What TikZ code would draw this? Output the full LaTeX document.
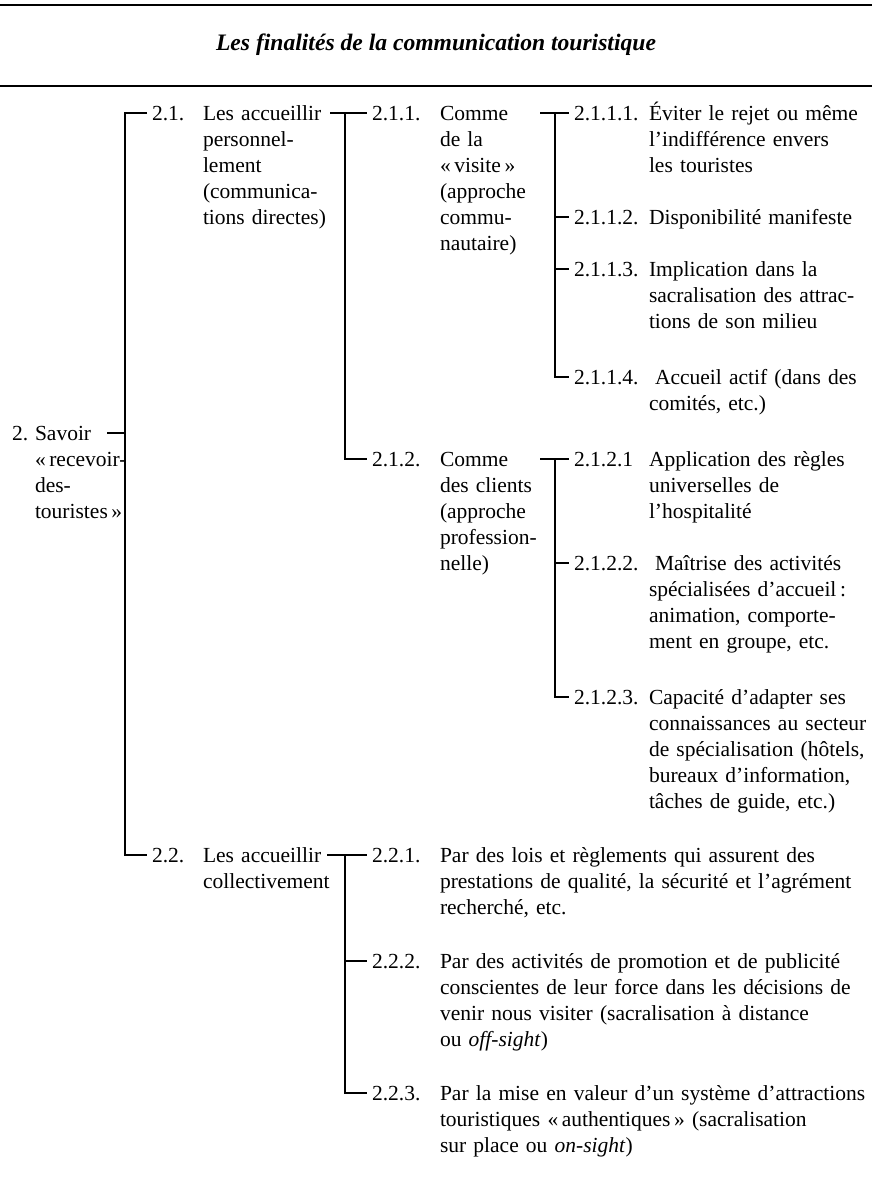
\documentclass[tikz,border=0pt]{standalone}
\usepackage{fontspec}
\setmainfont{Liberation Serif}
\usetikzlibrary{calc}

\begin{document}
\begin{tikzpicture}[x=0.5pt, y=-0.5pt,
		T/.style = {anchor=base west, inner sep=0pt, outer sep=0pt,
			align=left, text width=#1,% text of a branch
			font=\fontsize{10.75}{13}\selectfont},
		T/.default=75pt,
		N/.style = {anchor=base west, inner sep=0pt, outer sep=0pt,% number of a branch
			font=\fontsize{10.75}{13}\selectfont},
		C/.style = {line width=1pt},
		R/.style = {line width=1.3pt},
		]
		\useasboundingbox (0,0) rectangle (872,1179);
		% title between two rules
		\draw[R] (0,5) -- (872,5);
		\draw[R] (0,86) -- (872,86);
		\node[anchor=base, inner sep=0pt, font=\fontsize{11.8}{14}\selectfont\bfseries\itshape]
			(title) at (436,50) {Les finalités de la communication touristique};
		% free ends and spines
		\coordinate (K2) at (107,0);   \coordinate (V1) at (125,0);
		\coordinate (K21) at (330,0);  \coordinate (V21) at (345,0);
		\coordinate (K22) at (327,0);  \coordinate (V22) at (345,0);
		\coordinate (K211) at (540,0); \coordinate (V211) at (555,0);
		\coordinate (K212) at (540,0); \coordinate (V212) at (555,0);
		% level 1
		\node[N] (N2) at (12,440) {2.};
		\node[T=50pt] (T2) at (35,440) {Savoir\\«\,recevoir-\\des-\\touristes\,»};
		% level 2
		\node[N] (N21) at (152,120) {2.1.};
		\node[T] (T21) at (203,120) {Les accueillir\\personnel-\\lement\\(communica-\\tions directes)};
		\node[N] (N22) at (152,862) {2.2.};
		\node[T] (T22) at (203,862) {Les accueillir\\collectivement};
		% level 3
		\node[N] (N211) at (372,120) {2.1.1.};
		\node[T=60pt] (T211) at (440,120) {Comme\\de la\\«\,visite\,»\\(approche\\commu-\\nautaire)};
		\node[N] (N212) at (372,466) {2.1.2.};
		\node[T=60pt] (T212) at (440,466) {Comme\\des clients\\(approche\\profession-\\nelle)};
		\node[N] (N221) at (372,862) {2.2.1.};
		\node[T=230pt] (T221) at (440,862) {Par des lois et règlements qui assurent des\\prestations de qualité, la sécurité et l’agrément\\recherché, etc.};
		\node[N] (N222) at (372,968) {2.2.2.};
		\node[T=230pt] (T222) at (440,968) {Par des activités de promotion et de publicité\\conscientes de leur force dans les décisions de\\venir nous visiter (sacralisation à distance\\ou \textit{off-sight})};
		\node[N] (N223) at (372,1100) {2.2.3.};
		\node[T=230pt] (T223) at (440,1100) {Par la mise en valeur d’un système d’attractions\\touristiques «\,authentiques\,» (sacralisation\\sur place ou \textit{on-sight})};
		% level 4
		\node[N] (N2111) at (574,120) {2.1.1.1.};
		\node[T=130pt] (T2111) at (649,120) {Éviter le rejet ou même\\l’indifférence envers\\les touristes};
		\node[N] (N2112) at (574,224) {2.1.1.2.};
		\node[T=130pt] (T2112) at (649,224) {Disponibilité manifeste};
		\node[N] (N2113) at (574,276) {2.1.1.3.};
		\node[T=130pt] (T2113) at (649,276) {Implication dans la\\sacralisation des attrac-\\tions de son milieu};
		\node[N] (N2114) at (574,384) {2.1.1.4.};
		\node[T=130pt] (T2114) at (649,384) {\hspace*{3pt}Accueil actif (dans des\\comités, etc.)};
		\node[N] (N2121) at (574,466) {2.1.2.1};
		\node[T=130pt] (T2121) at (649,466) {Application des règles\\universelles de\\l’hospitalité};
		\node[N] (N2122) at (574,570) {2.1.2.2.};
		\node[T=130pt] (T2122) at (649,570) {\hspace*{3pt}Maîtrise des activités\\spécialisées d’accueil\,:\\animation, comporte-\\ment en groupe, etc.};
		\node[N] (N2123) at (574,704) {2.1.2.3.};
		\node[T=130pt] (T2123) at (649,704) {Capacité d’adapter ses\\connaissances au secteur\\de spécialisation (hôtels,\\bureaux d’information,\\tâches de guide, etc.)};
		% connectors
		\draw[C] (N2.west -| K2) -- (N2.west -| V1);
		\draw[C] ([xshift=-2.5pt]N21.west) -- (N21.west -| V1) -- (N22.west -| V1) -- ([xshift=-2.5pt]N22.west);
		\draw[C] (N211.west -| K21) -- ([xshift=-2.5pt]N211.west);
		\draw[C] (N211.west -| V21) -- (N212.west -| V21) -- ([xshift=-2.5pt]N212.west);
		\draw[C] (N221.west -| K22) -- ([xshift=-2.5pt]N221.west);
		\draw[C] (N221.west -| V22) -- (N223.west -| V22) -- ([xshift=-2.5pt]N223.west);
		\draw[C] (N222.west -| V22) -- ([xshift=-2.5pt]N222.west);
		\draw[C] (N2111.west -| K211) -- ([xshift=-2.5pt]N2111.west);
		\draw[C] (N2111.west -| V211) -- (N2114.west -| V211) -- ([xshift=-2.5pt]N2114.west);
		\foreach \c in {2112,2113}
		\draw[C] (N\c.west -| V211) -- ([xshift=-2.5pt]N\c.west);
		\draw[C] (N2121.west -| K212) -- ([xshift=-2.5pt]N2121.west);
		\draw[C] (N2121.west -| V212) -- (N2123.west -| V212) -- ([xshift=-2.5pt]N2123.west);
		\draw[C] (N2122.west -| V212) -- ([xshift=-2.5pt]N2122.west);
	\end{tikzpicture}
\end{document}
